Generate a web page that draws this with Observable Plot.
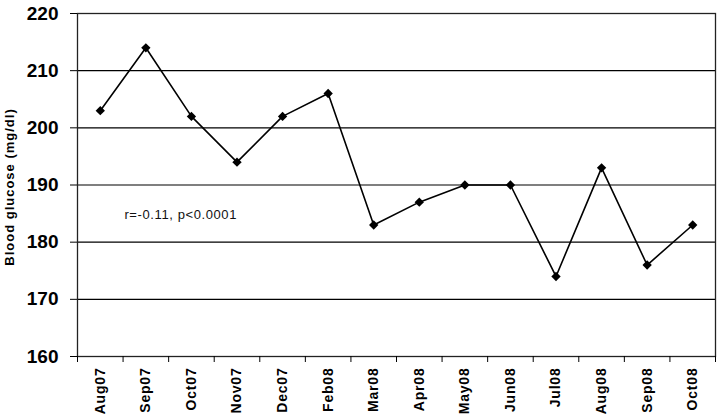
<!DOCTYPE html>
<html>
<head>
<meta charset="utf-8">
<script src="https://cdn.jsdelivr.net/npm/d3@7"></script>
<script src="https://cdn.jsdelivr.net/npm/@observablehq/plot@0.6"></script>
<style>
  html, body { margin: 0; padding: 0; background: #fff; }
  svg { display: block; }
</style>
</head>
<body>
<div id="chart"></div>
<script>
const months = ["Aug07","Sep07","Oct07","Nov07","Dec07","Feb08","Mar08","Apr08","May08","Jun08","Jul08","Aug08","Sep08","Oct08"];
const glucose = [203, 214, 202, 194, 202, 206, 183, 187, 190, 190, 174, 193, 176, 183];
const yTicks = [160, 170, 180, 190, 200, 210, 220];
const gridValues = [170, 180, 190, 200, 210];
const annotation = "r=-0.11, p<0.0001";
const yTitle = "Blood glucose (mg/dl)";

const data = months.map((m, i) => ({ i, month: m, value: glucose[i] }));
const idx = months.map((_, i) => i);
const bounds = months.map((_, i) => i - 0.5).concat([months.length - 0.5]);

const font = "'Liberation Sans', Arial, sans-serif";

const chart = Plot.plot({
  width: 720,
  height: 416,
  marginLeft: 77,
  marginRight: 5,
  marginTop: 13,
  marginBottom: 60,
  style: { fontFamily: font, background: "#fff", color: "#000" },
  x: { type: "linear", domain: [-0.5, months.length - 0.5] },
  y: { domain: [160, 220] },
  marks: [
    Plot.ruleY(gridValues, { stroke: "#000", strokeWidth: 1.2 }),
    Plot.frame({ stroke: "#222", strokeWidth: 1.3 }),
    Plot.axisY({
      ticks: yTicks, tickSize: 7, tickPadding: 12,
      tickFormat: d => String(d),
      fontSize: 19, fontWeight: "bold", label: null
    }),
    Plot.axisX({ ticks: bounds, tickSize: 6, tickFormat: () => "", label: null }),
    Plot.axisX({
      ticks: idx, tickSize: 0, tickPadding: 11, tickRotate: -90,
      tickFormat: i => months[i],
      fontSize: 14, fontWeight: "bold", label: null
    }),
    Plot.line(data, { x: "i", y: "value", stroke: "#000", strokeWidth: 1.6 }),
    Plot.dot(data, { x: "i", y: "value", symbol: "diamond2", r: 4.2, fill: "#000", stroke: "none" }),
    Plot.text([annotation], {
      x: 0.53, y: 184.7, text: d => d, textAnchor: "start",
      fontSize: 13, fill: "#111", fontFamily: font
    })
  ]
});

const svg = d3.select(chart);
// slightly wider letter spacing, as in the reference rendering
svg.selectAll("g[aria-label='x-axis tick label'] text").attr("letter-spacing", 0.8);
svg.selectAll("g[aria-label='text'] text").attr("letter-spacing", 0.6);

// y axis title
svg.append("text")
  .attr("transform", "translate(11,187) rotate(-90)")
  .attr("text-anchor", "middle")
  .attr("dominant-baseline", "middle")
  .attr("font-family", font)
  .attr("font-size", 13)
  .attr("font-weight", "bold")
  .attr("letter-spacing", 1)
  .attr("fill", "#000")
  .text(yTitle);

document.getElementById("chart").appendChild(chart);
</script>
</body>
</html>
